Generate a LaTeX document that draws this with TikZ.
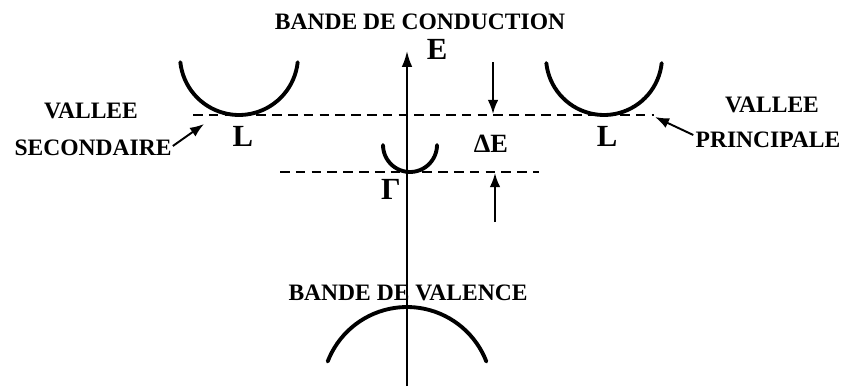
\documentclass[tikz,border=0pt]{standalone}
\usepackage{fontspec}
\setmainfont{Liberation Serif}
\usepackage{tikz}
\usetikzlibrary{positioning,arrows.meta}

\tikzset{
  lbl/.style={font=\fontsize{13.4}{15}\selectfont\bfseries, inner sep=0pt},
  biglbl/.style={font=\fontsize{17.5}{19}\selectfont\bfseries, inner sep=0pt},
  valley/.style={line width=2.2pt, line cap=round},
  level/.style={line width=1.4pt, dash pattern=on 5.5pt off 3.5pt},
  pointer/.style={line width=1.1pt, -{Latex[length=8pt,width=6pt]}}
}

\begin{document}
\begin{tikzpicture}[x=0.02cm,y=-0.02cm]
  \useasboundingbox (0,0) rectangle (851,386);
  % axe des energies
  \coordinate (axbot) at (407,386);
  \coordinate (axtop) at (407,51);
  \draw[line width=1.1pt,-{Latex[length=9pt,width=6pt]}] (axbot) -- (axtop);
  \node[biglbl] (E) at (437,49) {E};
  \node[lbl] (cond) at (420,22) {BANDE DE CONDUCTION};
  % niveaux
  \coordinate (lvlLa) at (193,115);
  \coordinate (lvlLb) at (654,115);
  \coordinate (lvlGa) at (280,172);
  \coordinate (lvlGb) at (539,172);
  \draw[level] (lvlLa) -- (lvlLb);
  \draw[level] (lvlGa) -- (lvlGb);
  % vallees
  \draw[valley] plot[domain=174:6, samples=40] ({239+59*cos(\x)},{56+59*sin(\x)});
  \draw[valley] plot[domain=174:6, samples=40] ({604+58*cos(\x)},{57+58*sin(\x)});
  \draw[valley] plot[domain=180:0, samples=30] ({410+27*cos(\x)},{145+27*sin(\x)});
  \draw[valley] plot[domain=201:339, samples=40] ({407+85*cos(\x)},{392+85*sin(\x)});
  \node[biglbl] (Lsec) at (243,136) {L};
  \node[biglbl] (Lpri) at (607,136) {L};
  \node[biglbl] (Gam) at (391,189) {Γ};
  \node[font=\fontsize{15}{16}\selectfont\bfseries, inner sep=0pt] (dE) at (491,144) {ΔE};
  % Delta E
  \coordinate (dEtop) at (493,62);
  \coordinate (dEtopend) at (493,114);
  \coordinate (dEbot) at (495,222);
  \coordinate (dEbotend) at (495,173);
  \draw[pointer] (dEtop) -- (dEtopend);
  \draw[pointer] (dEbot) -- (dEbotend);
  % legendes
  \node[lbl] (vsec) at (91,111) {VALLEE};
  \node[lbl] (sec) at (93,148) {SECONDAIRE};
  \node[lbl] (vpri) at (772,105) {VALLEE};
  \node[lbl] (pri) at (768,140) {PRINCIPALE};
  \coordinate (secend) at (204,124);
  \coordinate (priend) at (655,117);
  \draw[pointer] (sec.east) ++(1,-2) -- (secend);
  \draw[pointer] (pri.west) ++(-2,-5) -- (priend);
  \node[lbl] (val) at (408,293) {BANDE DE VALENCE};
\end{tikzpicture}
\end{document}
